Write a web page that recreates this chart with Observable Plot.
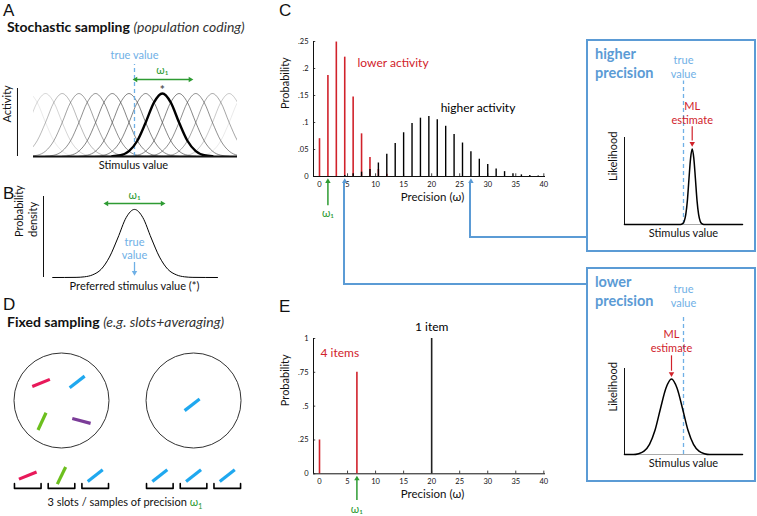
<!DOCTYPE html>
<html><head><meta charset="utf-8">
<script src="https://cdn.jsdelivr.net/npm/d3@7"></script>
<script src="https://cdn.jsdelivr.net/npm/@observablehq/plot@0.6"></script>
<style>
body{margin:0;background:#fff;}
#fig{position:relative;width:757px;height:516px;overflow:hidden;font-family:Lato,"Open Sans",sans-serif;color:#111;}
#fig svg{position:absolute;left:0;top:0;overflow:visible;}
.t{position:absolute;white-space:nowrap;line-height:1;}
.c{transform:translate(-50%,-50%);}
.box{position:absolute;border:2px solid #5b9bd5;box-sizing:border-box;}
.ln{position:absolute;background:#5b9bd5;}
</style></head><body><div id="fig"></div>
<script>
// ---------------- DATA ----------------
// Panel A: population of tuning curves
const tuningCenters = [0,1,2,3,4,5,6,7,8,9,10,11,12,13];
const tuningOpacity = [0.1,0.2,0.34,0.46,0.55,0.6,0.6,0.6,0.6,0.6,0.55,0.44,0.26,0.1];
const boldNeuron = 8;
const shapeOffsets = [-3,-2.5,-2,-1.5,-1,-0.5,0,0.5,1,1.5,2,2.5,3];
const shapeValues  = [0.004,0.02,0.085,0.25,0.54,0.86,1,0.86,0.54,0.25,0.085,0.02,0.004];
const trueValueA = 6.33;
// Panel B: density of preferred stimulus values
const densityX = [-4.9,-3.5,-3,-2.5,-2,-1.5,-1,-0.5,0,0.5,1,1.5,2,2.5,3,3.5,4.97];
const densityY = [0,0.002,0.01,0.04,0.12,0.3,0.58,0.88,1,0.88,0.58,0.3,0.12,0.04,0.01,0.002,0];
// Panel C: precision distributions
const lowOmega  = [0,1.5,3,4.5,6,7.5,9,10.5,12];
const lowProb   = [0.070,0.187,0.249,0.221,0.147,0.079,0.035,0.013,0.004];
const highOmega = [4.5,6,7.5,9,10.5,12,13.5,15,16.5,18,19.5,21,22.5,24,25.5,27,28.5,30,31.5,33,34.5,36,37.5,39];
const highProb  = [0.002,0.005,0.008,0.013,0.025,0.041,0.061,0.081,0.098,0.108,0.111,0.105,0.093,0.078,0.062,0.046,0.032,0.022,0.014,0.009,0.005,0.003,0.002,0.001];
const probTicksC = [0,0.05,0.1,0.15,0.2,0.25];
const precisionTicks = [0,5,10,15,20,25,30,35,40];
const omega1C = 1.5;
const linkedOmega = {higher:27, lower:4.5};
// Panel E: fixed sampling
const fixedOmega = [0,6.67,20];
const fixedProb  = [0.25,0.75,1];
const fixedSet   = ["4 items","4 items","1 item"];
const probTicksE = [0,0.25,0.5,0.75,1];
const omega1E = 6.67;
// Likelihood boxes
const likeHighX = [-5.9,-0.3,-0.09,0.07,0.23,0.39,0.55,0.71,0.87,1.03,1.19,1.35,1.51,1.67,1.83,2.05,5.9];
const likeHighY = [0,0,0.011,0.044,0.135,0.32,0.61,0.88,1,0.88,0.61,0.32,0.135,0.044,0.011,0,0];
const likeLowX  = [-5.9,-5.0,-4.5,-3.95,-3.4,-2.85,-2.3,-1.75,-1.2,-0.65,-0.1,0.45,1.0,1.55,2.1,2.6,5.9];
const likeLowY  = [0,0,0.011,0.044,0.135,0.32,0.61,0.88,1,0.88,0.61,0.32,0.135,0.044,0.011,0,0];
const mlHigh = 0.87, mlLow = -1.2;
// Panel D: displays and slots
const displayX = [0, 2.78];
const displayItems = [
  {display:0, rx:-0.43, ry:0.37,  angle:22,  color:"red"},
  {display:0, rx:0.33,  ry:0.39,  angle:38,  color:"blue"},
  {display:0, rx:-0.41, ry:-0.44, angle:65,  color:"green"},
  {display:0, rx:0.42,  ry:-0.43, angle:-15, color:"purple"},
  {display:1, rx:-0.03, ry:-0.09, angle:38,  color:"blue"}
];
const slotOffsets = [-0.71,0,0.71];
const slotItems = [
  {display:0, slot:0, angle:22, color:"red"},
  {display:0, slot:1, angle:64, color:"green"},
  {display:0, slot:2, angle:38, color:"blue"},
  {display:1, slot:0, angle:38, color:"blue"},
  {display:1, slot:1, angle:38, color:"blue"},
  {display:1, slot:2, angle:38, color:"blue"}
];
const itemColors = {red:"#e8195a", blue:"#1fa8ef", green:"#6cbf1e", purple:"#7b3c98"};

// ---------------- STYLE ----------------
const FONT = 'Lato, "Open Sans", sans-serif';
const RED = "#d1222b", GREEN = "#2e9b33", BLUE = "#5b9bd5", LBLUE = "#6fb0e6";
const fig = document.getElementById("fig");
function frame(x0,x1,y0,y1){
  return {width:757,height:516,marginLeft:x0,marginRight:757-x1,marginTop:y0,marginBottom:516-y1,
    style:{background:"transparent",fontFamily:FONT,overflow:"visible"}};
}
function put(p){fig.appendChild(p);return p;}
function txt(html,left,top,css,center){
  const d=document.createElement("div");d.className="t"+(center?" c":"");d.innerHTML=html;
  d.style.left=left+"px";d.style.top=top+"px";Object.assign(d.style,css||{});fig.appendChild(d);return d;
}
function downHead(x,y,color){return Plot.dot([0],{x:()=>x,y:()=>y,symbol:"triangle2",r:2.6,fill:color,rotate:180,dy:-4.2});}
const rel = d => d===0 ? "0" : d3.format("~g")(d).replace(/^0/,"");

// ---------------- PANEL A ----------------
const tuning = tuningCenters.flatMap((c,i)=>shapeOffsets.map((o,j)=>({neuron:i,x:c+o,y:shapeValues[j],op:tuningOpacity[i]})));
put(Plot.plot({...frame(33,237,88,156),
  x:{domain:[0.28,12.5],axis:null}, y:{domain:[0,1.08],axis:null},
  marks:[
    Plot.ruleX([-0.68],{y1:0,y2:1.08,strokeWidth:1}),
    Plot.line(tuning.filter(d=>d.neuron!==boldNeuron),{x:"x",y:"y",z:"neuron",stroke:"#333",strokeOpacity:"op",strokeWidth:1,curve:"monotone-x",clip:true}),
    Plot.ruleX([trueValueA],{y1:0,y2:1.46,stroke:LBLUE,strokeWidth:1.3,strokeDasharray:"4,3"}),
    Plot.line(tuning.filter(d=>d.neuron===boldNeuron),{x:"x",y:"y",stroke:"#000",strokeWidth:2.4,curve:"monotone-x",clip:true}),
    Plot.ruleY([0],{strokeWidth:2}),
    Plot.text(["true value"],{text:d=>d,x:trueValueA,y:1.6,fill:LBLUE,fontSize:11}),
    Plot.ruleY([1.222],{x1:6.4,x2:9.7,stroke:GREEN,strokeWidth:1.5}),
    Plot.dot([0],{x:()=>6.15,y:()=>1.222,symbol:"triangle2",r:2.6,fill:GREEN,rotate:-90,dx:4.2}),
    Plot.dot([0],{x:()=>9.92,y:()=>1.222,symbol:"triangle2",r:2.6,fill:GREEN,rotate:90,dx:-4.2}),
    Plot.text(["ω₁"],{text:d=>d,x:8,y:1.36,fill:GREEN,fontSize:11}),
    Plot.text(["*"],{text:d=>d,x:8,y:1.06,fill:"#555",fontSize:12,fontWeight:"bold"}),
    Plot.text(["Activity"],{text:d=>d,frameAnchor:"left",dx:-26,rotate:-90,fontSize:11}),
    Plot.text(["Stimulus value"],{text:d=>d,frameAnchor:"bottom",dy:12,dx:-2,fontSize:11})
  ]}));

// ---------------- PANEL B ----------------
const density = densityX.map((x,i)=>({x,y:densityY[i]}));
put(Plot.plot({...frame(43,217,196,277),
  x:{domain:[-5.45,4.97],axis:null}, y:{domain:[0,1.19],axis:null},
  marks:[
    Plot.ruleX([-5.45],{strokeWidth:1}),
    Plot.line(density,{x:"x",y:"y",stroke:"#000",strokeWidth:1,curve:"monotone-x"}),
    Plot.ruleY([1.088],{x1:-1.65,x2:1.65,stroke:GREEN,strokeWidth:1.5}),
    Plot.dot([0],{x:()=>-1.92,y:()=>1.088,symbol:"triangle2",r:2.6,fill:GREEN,rotate:-90,dx:4.2}),
    Plot.dot([0],{x:()=>1.92,y:()=>1.088,symbol:"triangle2",r:2.6,fill:GREEN,rotate:90,dx:-4.2}),
    Plot.text(["ω₁"],{text:d=>d,x:0,y:1.21,fill:GREEN,fontSize:11}),
    Plot.text(["true\nvalue"],{text:d=>d,x:0,y:0.435,fill:LBLUE,fontSize:11,lineHeight:1.2}),
    Plot.ruleX([0],{y1:0.22,y2:0.06,stroke:LBLUE,strokeWidth:1.3}),
    downHead(0,0.01,LBLUE),
    Plot.text(["Probability\ndensity"],{text:d=>d,frameAnchor:"left",dx:-18,rotate:-90,fontSize:11,lineHeight:1.25}),
    Plot.text(["Preferred stimulus value (*)"],{text:d=>d,frameAnchor:"bottom",dy:12,dx:4,fontSize:11})
  ]}));

// ---------------- PANEL C ----------------
const lowData = lowOmega.map((x,i)=>({x,p:lowProb[i]}));
const highData = highOmega.map((x,i)=>({x,p:highProb[i]}));
const cXdom = [-1.07,40.3];
function precisionAxes(ticksY, ymax){
  return [
    Plot.ruleX([cXdom[0]],{y1:0,y2:ymax,strokeWidth:1}),
    Plot.ruleY([0],{strokeWidth:1}),
    Plot.ruleX(precisionTicks,{x:d=>d,y1:0,y2:ymax*0.02,strokeWidth:0.8}),
    Plot.ruleY(ticksY,{y:d=>d,x1:cXdom[0],x2:cXdom[0]+0.4,strokeWidth:0.8}),
    Plot.axisY({ticks:ticksY,tickFormat:rel,tickSize:0,tickPadding:5,fontSize:7.5,label:null}),
    Plot.axisX({ticks:precisionTicks,tickSize:0,tickPadding:5,fontSize:7.5,label:null}),
    Plot.text(["Probability"],{text:d=>d,frameAnchor:"left",dx:-28,rotate:-90,fontSize:11}),
    Plot.text(["Precision (ω)"],{text:d=>d,frameAnchor:"bottom",dy:24,dx:3,fontSize:11.5})
  ];
}
const plotC = put(Plot.plot({...frame(313,545,41,176),
  x:{domain:cXdom}, y:{domain:[0,0.25]},
  marks:[
    ...precisionAxes(probTicksC,0.25),
    Plot.ruleX(lowData,{x:"x",y1:0,y2:"p",stroke:RED,strokeWidth:1.6}),
    Plot.ruleX(highData,{x:"x",y1:0,y2:"p",stroke:"#000",strokeWidth:1.4}),
    Plot.text(["lower activity"],{text:d=>d,x:6.78,y:0.209,fill:RED,fontSize:12,textAnchor:"start"}),
    Plot.text(["higher activity"],{text:d=>d,x:21.6,y:0.126,fill:"#000",fontSize:12,textAnchor:"start"}),
    Plot.ruleX([omega1C],{y1:-0.054,y2:-0.012,stroke:GREEN,strokeWidth:1.5}),
    Plot.dot([0],{x:()=>omega1C,y:()=>0,symbol:"triangle2",r:2.6,fill:GREEN,dy:5}),
    Plot.text(["ω₁"],{text:d=>d,x:omega1C,y:-0.0685,fill:GREEN,fontSize:11}),
    Plot.dot([linkedOmega.higher,linkedOmega.lower],{x:d=>d,y:()=>0,symbol:"triangle2",r:2.6,fill:BLUE,dy:5})
  ]}));

// ---------------- PANEL E ----------------
const fixedData = fixedOmega.map((x,i)=>({x,p:fixedProb[i],set:fixedSet[i]}));
put(Plot.plot({...frame(313,545,338,473.3),
  x:{domain:cXdom}, y:{domain:[0,1]},
  marks:[
    ...precisionAxes(probTicksE,1),
    Plot.ruleX(fixedData,{x:"x",y1:0,y2:"p",stroke:d=>d.set==="1 item"?"#222":RED,strokeWidth:1.6}),
    Plot.text(["1 item"],{text:d=>d,x:20,y:1.081,fill:"#000",fontSize:12}),
    Plot.text(["4 items"],{text:d=>d,x:0.18,y:0.891,fill:RED,fontSize:12,textAnchor:"start"}),
    Plot.ruleX([omega1E],{y1:-0.197,y2:-0.045,stroke:GREEN,strokeWidth:1.5}),
    Plot.dot([0],{x:()=>omega1E,y:()=>0,symbol:"triangle2",r:2.6,fill:GREEN,dy:5}),
    Plot.text(["ω₁"],{text:d=>d,x:omega1E,y:-0.26,fill:GREEN,fontSize:11})
  ]}));

// ---------------- LIKELIHOOD BOXES ----------------
function likelihoodPanel(y0,y1,xs,ys,ml,dashTop,tvY,mlY,arrowTop,tipY){
  const data = xs.map((x,i)=>({x,y:ys[i]}));
  const ymax = (y1-y0)/75.5;
  return Plot.plot({...frame(624,742,y0,y1),
    x:{domain:[-5.9,5.9],axis:null}, y:{domain:[0,ymax],axis:null},
    marks:[
      Plot.ruleY([0],{stroke:"#aaa",strokeWidth:1}),
      Plot.ruleX([-5.9],{y1:0,y2:ymax,strokeWidth:1}),
      Plot.ruleX([0],{y1:0,y2:dashTop,stroke:LBLUE,strokeWidth:1.3,strokeDasharray:"4,3"}),
      Plot.line(data,{x:"x",y:"y",stroke:"#000",strokeWidth:1.5,curve:"monotone-x"}),
      Plot.text(["true\nvalue"],{text:d=>d,x:0,y:tvY,fill:LBLUE,fontSize:11,lineHeight:1.25}),
      Plot.text(["ML\nestimate"],{text:d=>d,x:ml,y:mlY,fill:RED,fontSize:11,lineHeight:1.25}),
      Plot.ruleX([ml],{y1:arrowTop,y2:tipY+0.09,stroke:RED,strokeWidth:1.2}),
      downHead(ml,tipY,RED),
      Plot.text(["Likelihood"],{text:d=>d,frameAnchor:"left",dx:-11,rotate:-90,fontSize:11}),
      Plot.text(["Stimulus value"],{text:d=>d,frameAnchor:"bottom",dy:12,fontSize:11})
    ]});
}
put(likelihoodPanel(137,224,likeHighX,likeHighY,mlHigh,1.9,2.087,1.48,1.295,1.017));
put(likelihoodPanel(368,454,likeLowX,likeLowY,mlLow,1.853,2.107,1.507,1.307,1.013));

// ---------------- PANEL D ----------------
const barLen = 0.4;
function seg(cx,cy,angle,color){
  const a = angle*Math.PI/180, h = barLen/2;
  return {x1:cx-h*Math.cos(a),y1:cy-h*Math.sin(a),x2:cx+h*Math.cos(a),y2:cy+h*Math.sin(a),color:itemColors[color]};
}
const slotY = -1.58, bracketTop = -1.75, bracketBottom = -1.85, bracketHalf = 0.28;
const segs = [
  ...displayItems.map(d=>seg(displayX[d.display]+d.rx,d.ry,d.angle,d.color)),
  ...slotItems.map(d=>seg(displayX[d.display]+slotOffsets[d.slot],slotY,d.angle,d.color))
];
const brackets = displayX.flatMap((dx,di)=>slotOffsets.flatMap((o,si)=>{
  const c = dx+o, id = di*3+si;
  return [[c-bracketHalf,bracketTop],[c-bracketHalf,bracketBottom],[c+bracketHalf,bracketBottom],[c+bracketHalf,bracketTop]].map(([x,y])=>({x,y,id}));
}));
put(Plot.plot({...frame(0,250,340,500),
  x:{domain:[-1.284,3.979],axis:null}, y:{domain:[-2.105,1.263],axis:null},
  marks:[
    Plot.dot(displayX,{x:d=>d,y:()=>0,r:47.5,stroke:"#333",fill:"none",strokeWidth:1}),
    Plot.link(segs,{x1:"x1",y1:"y1",x2:"x2",y2:"y2",stroke:"color",strokeWidth:3.2,strokeLinecap:"butt"}),
    Plot.line(brackets,{x:"x",y:"y",z:"id",stroke:"#000",strokeWidth:1.6})
  ]}));

// ---------------- HTML TEXT, BOXES, CONNECTORS ----------------
const L = {fontFamily:'"Liberation Sans",Arial,sans-serif',fontSize:"17px",lineHeight:"15px"};
txt("A",3,3,L); txt("B",3,186,L); txt("C",279,3,L); txt("D",3,297,L); txt("E",279,299,L);
txt('<b>Stochastic sampling</b> <i style="color:#333">(population coding)</i>',7,20,{fontSize:"14px"});
txt('<b>Fixed sampling</b> <i style="color:#333">(e.g. slots+averaging)</i>',7,315,{fontSize:"14px"});
txt('3 slots / samples of precision <span style="color:'+GREEN+'">ω<sub style="font-size:70%">1</sub></span>',125,503,{fontSize:"11px"},true);

const boxes = [{key:"higher",top:39,h:213,label:"higher<br>precision"},{key:"lower",top:267,h:215,label:"lower<br>precision"}];
const connY = {higher:237, lower:284};
const sx = plotC.scale("x");
for(const b of boxes){
  const d=document.createElement("div");d.className="box";
  Object.assign(d.style,{left:"586px",top:b.top+"px",width:"170px",height:b.h+"px"});fig.appendChild(d);
  txt(b.label,595,b.top+6,{fontSize:"14.5px",fontWeight:"bold",color:BLUE,lineHeight:"18.5px"});
  const px = sx.apply(linkedOmega[b.key]);
  const v=document.createElement("div");v.className="ln";
  Object.assign(v.style,{left:(px-1)+"px",top:"182px",width:"2px",height:(connY[b.key]-181)+"px"});fig.appendChild(v);
  const h=document.createElement("div");h.className="ln";
  Object.assign(h.style,{left:(px-1)+"px",top:(connY[b.key]-1)+"px",width:(587-px+1)+"px",height:"2px"});fig.appendChild(h);
}
</script></body></html>
